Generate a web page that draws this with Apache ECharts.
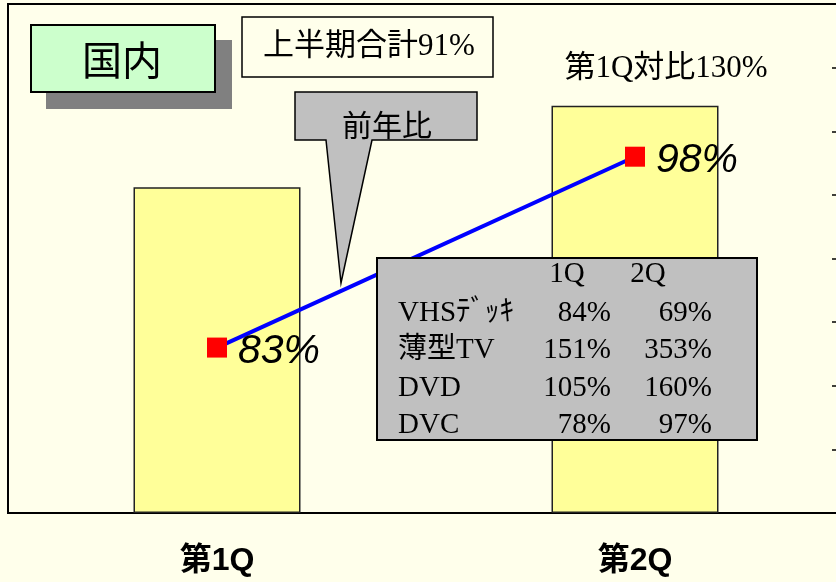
<!DOCTYPE html>
<html>
<head>
<meta charset="utf-8">
<script src="https://cdn.jsdelivr.net/npm/echarts@6.0.0/dist/echarts.min.js"></script>
<style>
  html, body { margin: 0; padding: 0; background: #FFFFEB; overflow: hidden; }
  /* the plot runs a few pixels past the right edge of the window */
  #chart { width: 844px; height: 582px; }
</style>
</head>
<body>
<div id="chart"></div>
<script>
// chart data
const categories = ["第1Q", "第2Q"];
const barValues = [64, 80];
const ratioValues = [83, 98];

// table in the grey box
const tableHeaders = ["1Q", "2Q"];
const tableItems = ["VHSﾃﾞｯｷ", "薄型TV", "DVD", "DVC"];
const table1Q = [84, 151, 105, 78];
const table2Q = [69, 353, 160, 97];

const serifJp = "'Liberation Serif', 'Noto Sans CJK JP'";
const gothic = "'Noto Sans CJK JP'";

function txt(text, x, y, size, family, align) {
  return {
    type: "text",
    z: 110,
    style: {
      text: text,
      x: x,
      y: y,
      fill: "#000",
      font: size + "px " + family,
      align: align || "center",
      verticalAlign: "middle",
      textAlign: align || "center",
      textVerticalAlign: "middle",
    },
  };
}

const graphics = [
  // 国内 box with shadow
  { type: "rect", z: 100, shape: { x: 46, y: 40, width: 186, height: 69 }, style: { fill: "#808080" } },
  { type: "rect", z: 101, shape: { x: 31, y: 25, width: 184, height: 67 }, style: { fill: "#CCFFCC", stroke: "#000", lineWidth: 2 } },
  txt("国内", 122, 60, 40, gothic),
  // 上半期合計 box
  { type: "rect", z: 100, shape: { x: 242, y: 17, width: 251, height: 60 }, style: { fill: "#FFFFEB", stroke: "#000", lineWidth: 1.5 } },
  txt("上半期合計91%", 369, 47, 31, serifJp),
  // 前年比 callout
  {
    type: "polygon",
    z: 100,
    shape: { points: [[295, 92], [477, 92], [477, 140], [372, 140], [341, 283], [326, 140], [295, 140]] },
    style: { fill: "#C0C0C0", stroke: "#000", lineWidth: 1.5 },
  },
  txt("前年比", 387, 125, 30, gothic),
  // 第1Q対比
  txt("第1Q対比130%", 666, 69, 31, serifJp),
  // table box
  { type: "rect", z: 100, shape: { x: 377, y: 258, width: 380, height: 182 }, style: { fill: "#C0C0C0", stroke: "#000", lineWidth: 2 } },
  txt(tableHeaders[0], 567, 274, 29, serifJp),
  txt(tableHeaders[1], 648, 274, 29, serifJp),
];

tableItems.forEach(function (name, i) {
  const y = 313 + i * 37.5;
  graphics.push(txt(name, 398, y, 29, serifJp, "left"));
  graphics.push(txt(table1Q[i] + "%", 611, y, 29, serifJp, "right"));
  graphics.push(txt(table2Q[i] + "%", 712, y, 29, serifJp, "right"));
});

const chart = echarts.init(document.getElementById("chart"));
chart.setOption({
  backgroundColor: "#FFFFEB",
  animation: false,
  grid: {
    left: 8,
    top: 4,
    right: 0,
    bottom: 69,
    show: true,
    borderColor: "#000",
    borderWidth: 2,
    backgroundColor: "transparent",
  },
  xAxis: {
    type: "category",
    data: categories,
    axisLine: { lineStyle: { color: "#000", width: 2 } },
    axisTick: { inside: true, length: 12, lineStyle: { color: "#000", width: 1.5 } },
    axisLabel: {
      margin: 32,
      fontSize: 32,
      fontWeight: "bold",
      fontFamily: "'Liberation Sans', 'Noto Sans CJK JP'",
      color: "#000",
    },
  },
  yAxis: [
    {
      type: "value",
      min: 0,
      max: 100,
      show: false,
    },
    {
      type: "value",
      position: "right",
      min: 70,
      max: 110,
      interval: 5,
      axisLine: { show: false },
      axisTick: { show: true, inside: true, length: 12, lineStyle: { color: "#000", width: 1.5 } },
      axisLabel: { show: false },
      splitLine: { show: false },
    },
  ],
  series: [
    {
      type: "bar",
      data: barValues,
      barWidth: 167,
      itemStyle: { color: "#FFFF99", borderColor: "#222", borderWidth: 1.5 },
    },
    {
      type: "line",
      yAxisIndex: 1,
      data: ratioValues,
      symbol: "rect",
      symbolSize: 20,
      z: 5,
      lineStyle: { color: "#0000FF", width: 4 },
      itemStyle: { color: "#FF0000" },
      label: {
        show: true,
        position: "right",
        distance: 11,
        offset: [0, 4],
        formatter: "{c}%",
        fontSize: 41,
        fontStyle: "italic",
        fontFamily: "'Liberation Sans Narrow', 'Liberation Sans', sans-serif",
        color: "#000",
      },
    },
  ],
  graphic: graphics,
});
</script>
</body>
</html>
